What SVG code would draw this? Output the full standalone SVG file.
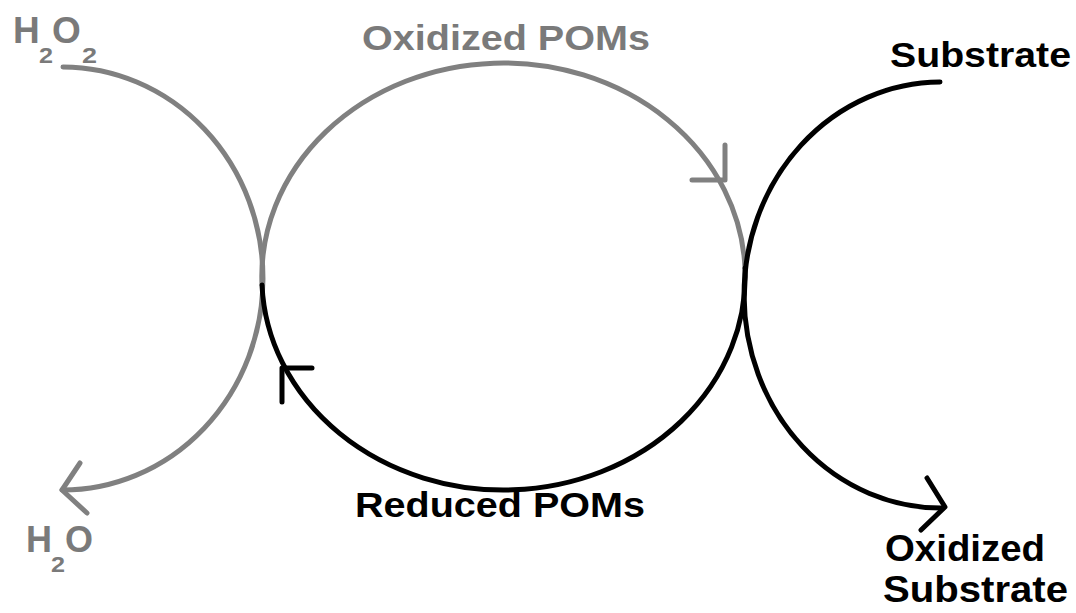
<svg xmlns="http://www.w3.org/2000/svg" width="1076" height="613" viewBox="0 0 1076 613">
<style>
.g{fill:none;stroke:#808080;stroke-width:5;stroke-linecap:round;stroke-linejoin:round}
.k{fill:none;stroke:#000;stroke-width:5;stroke-linecap:round;stroke-linejoin:round}
.tg{font-family:"Liberation Sans",Arial,sans-serif;font-weight:bold;fill:#7a7a7a}
.tk{font-family:"Liberation Sans",Arial,sans-serif;font-weight:bold;fill:#000}
</style>
<rect width="1076" height="613" fill="#fff"/>
<g id="connectors">
<path class="g" d="M 63 67 A 200 211 0 0 1 62 490"/>
<polyline class="g" points="80,463 62,490 87,513"/>
<path class="g" d="M 262 285 A 241 213 0 0 1 745 268"/>
<polyline class="g" points="725,145 725,180 692,180"/>
<path class="k" d="M 745 268 A 241 213 0 0 1 262 285"/>
<polyline class="k" points="312,368 282,368 282,402"/>
<path class="k" d="M 940 82 A 196 212 0 0 0 942 508"/>
<polyline class="k" points="927,478 945,507 921,530"/>
</g>
<g id="h2o2" class="tg"><text x="13" y="43" font-size="37">H</text><text x="39" y="63" font-size="22" textLength="14" lengthAdjust="spacingAndGlyphs">2</text><text x="52" y="43" font-size="37">O</text><text x="82" y="63" font-size="22" textLength="15" lengthAdjust="spacingAndGlyphs">2</text></g>
<g id="oxidized-poms"><text class="tg" x="362" y="50" font-size="35" textLength="288" lengthAdjust="spacingAndGlyphs">Oxidized POMs</text></g>
<g id="substrate"><text class="tk" x="890" y="67" font-size="35" textLength="181" lengthAdjust="spacingAndGlyphs">Substrate</text></g>
<g id="reduced-poms"><text class="tk" x="355" y="517" font-size="35" textLength="290" lengthAdjust="spacingAndGlyphs">Reduced POMs</text></g>
<g id="h2o" class="tg"><text x="26" y="552" font-size="36">H</text><text x="51" y="572" font-size="22" textLength="14" lengthAdjust="spacingAndGlyphs">2</text><text x="65" y="552" font-size="36">O</text></g>
<g id="oxidized-substrate" class="tk" font-size="36"><text x="885" y="561" textLength="160" lengthAdjust="spacingAndGlyphs">Oxidized</text><text x="883" y="602" textLength="185" lengthAdjust="spacingAndGlyphs">Substrate</text></g>
</svg>
